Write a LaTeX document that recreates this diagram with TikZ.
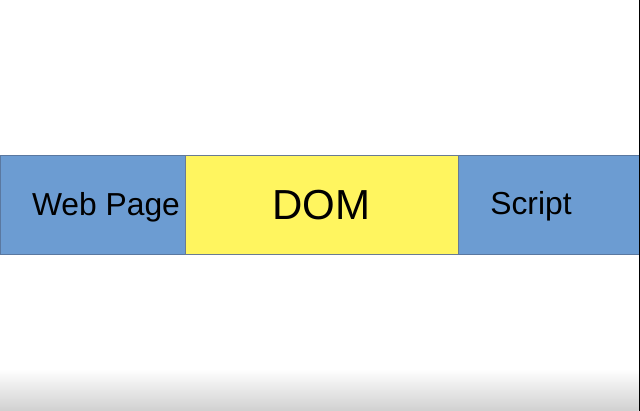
\documentclass[tikz,border=0pt]{standalone}
\usepackage{fontspec}
\setmainfont{Liberation Sans}
\definecolor{bandblue}{RGB}{108,156,210}
\definecolor{domyellow}{RGB}{255,245,95}
\definecolor{edge}{RGB}{90,120,160}
\definecolor{fadegray}{RGB}{208,208,208}
\tikzset{
  panel/.style={rectangle, draw=edge, line width=0.6pt, inner sep=0pt, minimum height=99pt},
  bluepanel/.style={panel, fill=bandblue},
  yellowpanel/.style={panel, fill=domyellow, draw=edge!60!gray},
  lbl/.style={anchor=base, inner sep=0pt, text=black, font=\fontsize{31.8}{32}\selectfont},
  biglbl/.style={anchor=base, inner sep=0pt, text=black, font=\fontsize{42}{42}\selectfont}
}
\begin{document}
\begin{tikzpicture}[x=1pt,y=1pt]
  \useasboundingbox (0,0) rectangle (640,411);
  \fill[white] (0,0) rectangle (640,411);
  \shade[top color=white, bottom color=fadegray] (0,0) rectangle (638.5,42);
  % panels
  \node[bluepanel, minimum width=185pt] (web) at (92.5,206.5) {};
  \node[bluepanel, minimum width=182pt] (scr) at (548.5,206.5) {};
  \node[yellowpanel, minimum width=273pt] (dom) at (321.5,206.5) {};
  % labels
  \node[lbl] (webtxt) at (106,195.5) {Web Page};
  \node[biglbl] (domtxt) at (321,191) {DOM};
  \node[lbl] (scrtxt) at (531,196.5) {Script};
  % right edge line
  \fill[black] (638.6,0) rectangle (640,411);
\end{tikzpicture}
\end{document}
